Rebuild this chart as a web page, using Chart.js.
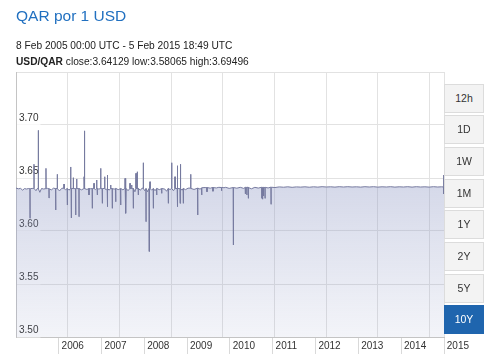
<!DOCTYPE html>
<html><head><meta charset="utf-8">
<script src="https://cdn.jsdelivr.net/npm/chart.js@4.4.1/dist/chart.umd.min.js"></script>
<style>
html,body{margin:0;padding:0;background:#fff;}
#wrap{position:relative;width:500px;height:356px;overflow:hidden;font-family:Arial,"Liberation Sans",sans-serif;}
#c{position:absolute;left:0;top:0;}
.t{position:absolute;left:16px;white-space:nowrap;line-height:1;}
#title{top:7.6px;font-size:15.5px;color:#2170c0;}
#range{top:41px;font-size:10.2px;color:#222;}
#stats{top:56.8px;font-size:10.2px;color:#222;}
.btn{position:absolute;left:444px;width:38px;height:27px;border:1px solid #dcdcdc;background:#f3f3f3;color:#333333;font-size:10.5px;text-align:center;line-height:27px;}
.btn.on{background:#1f65ae;border-color:#1f65ae;color:#fff;}
</style></head>
<body>
<div id="wrap">
<canvas id="c" width="500" height="356"></canvas>
<div class="t" id="title">QAR por 1 USD</div>
<div class="t" id="range">8 Feb 2005 00:00 UTC - 5 Feb 2015 18:49 UTC</div>
<div class="t" id="stats"><b>USD/QAR</b> close:3.64129 low:3.58065 high:3.69496</div>
</div>
<script>
// decimal-year dates and USD/QAR rates
const dates = [
2005.104,2005.160,2005.210,2005.260,2005.300,2005.350,2005.400,2005.428,2005.431,2005.434,2005.480,2005.521,2005.524,2005.527,2005.570,2005.600,2005.622,2005.625,2005.628,2005.660,2005.700,2005.750,2005.801,2005.804,2005.807,2005.840,2005.872,2005.875,2005.878,2005.930,2005.980,
2006.028,2006.031,2006.034,2006.065,2006.068,2006.071,2006.120,2006.170,2006.222,2006.225,2006.228,2006.260,2006.299,2006.302,2006.305,2006.340,2006.378,2006.381,2006.384,2006.392,2006.395,2006.398,2006.439,2006.442,2006.445,2006.495,2006.498,2006.501,2006.518,2006.521,2006.524,2006.572,2006.575,2006.578,2006.630,2006.689,2006.692,2006.695,2006.705,2006.708,2006.711,2006.760,2006.805,2006.808,2006.811,2006.850,2006.882,2006.885,2006.888,2006.922,2006.925,2006.928,2006.960,2006.985,2006.988,2006.991,2006.999,
2007.002,2007.005,2007.040,2007.079,2007.082,2007.085,2007.116,2007.119,2007.122,2007.172,2007.175,2007.178,2007.210,2007.233,2007.236,2007.239,2007.242,2007.245,2007.280,2007.312,2007.315,2007.318,2007.349,2007.352,2007.355,2007.395,2007.429,2007.432,2007.435,2007.490,2007.545,2007.548,2007.551,2007.600,2007.646,2007.649,2007.652,2007.669,2007.672,2007.675,2007.720,2007.763,2007.766,2007.769,2007.802,2007.805,2007.808,2007.840,2007.843,2007.846,2007.880,2007.903,2007.906,2007.909,2007.933,2007.936,2007.939,2007.956,2007.959,2007.962,
2008.010,2008.040,2008.073,2008.076,2008.079,2008.110,2008.136,2008.139,2008.142,2008.175,2008.206,2008.209,2008.212,2008.230,2008.233,2008.236,2008.270,2008.307,2008.310,2008.313,2008.350,2008.386,2008.389,2008.392,2008.450,2008.503,2008.506,2008.509,2008.580,2008.620,2008.657,2008.660,2008.663,2008.700,2008.736,2008.739,2008.742,2008.780,2008.813,2008.816,2008.819,2008.867,2008.870,2008.873,2008.876,2008.879,2008.930,2008.933,2008.936,2008.946,2008.949,2008.952,2008.980,
2009.007,2009.010,2009.013,2009.060,2009.120,2009.180,2009.183,2009.186,2009.260,2009.343,2009.346,2009.349,2009.400,2009.437,2009.440,2009.443,2009.520,2009.560,2009.563,2009.566,2009.640,2009.700,2009.703,2009.706,2009.780,2009.840,2009.900,2009.903,2009.906,2009.960,
2010.000,2010.080,2010.175,2010.178,2010.181,2010.260,2010.340,2010.420,2010.455,2010.458,2010.461,2010.490,2010.493,2010.496,2010.525,2010.528,2010.531,2010.600,2010.680,2010.760,2010.838,2010.841,2010.844,2010.858,2010.861,2010.864,2010.880,2010.883,2010.886,2010.915,2010.918,2010.921,2010.990,
2011.055,2011.058,2011.061,2011.150,2011.250,2011.350,2011.450,2011.550,2011.650,2011.750,2011.850,2011.950,
2012.050,2012.150,2012.250,2012.350,2012.450,2012.550,2012.650,2012.750,2012.850,2012.950,
2013.050,2013.150,2013.250,2013.350,2013.450,2013.550,2013.650,2013.750,2013.850,2013.950,
2014.050,2014.150,2014.250,2014.350,2014.450,2014.550,2014.650,2014.750,2014.850,2014.950,
2015.040,2015.085,2015.088,2015.091,2015.096
];
const rates = [
3.6405,3.6398,3.6402,3.6385,3.6400,3.6396,3.6401,3.6399,3.6120,3.6398,3.6402,3.6400,3.6630,3.6401,3.6380,3.6400,3.6402,3.69496,3.6398,3.6365,3.6401,3.6396,3.6400,3.6591,3.6399,3.6402,3.6400,3.6311,3.6398,3.6388,3.6404,
3.6400,3.6198,3.6401,3.6400,3.6535,3.6399,3.6378,3.6402,3.6405,3.6443,3.6400,3.6390,3.6400,3.6245,3.6401,3.6385,3.6400,3.6604,3.6400,3.6401,3.6123,3.6400,3.6402,3.6503,3.6400,3.6399,3.6151,3.6400,3.6402,3.6491,3.6400,3.6400,3.6135,3.6401,3.6388,3.6400,3.6512,3.6401,3.6402,3.6945,3.6400,3.6392,3.6400,3.6340,3.6401,3.6398,3.6400,3.6214,3.6400,3.6402,3.6450,3.6400,3.6390,3.6401,3.6481,3.6400,3.6400,
3.6340,3.6401,3.6395,3.6402,3.6591,3.6400,3.6399,3.6261,3.6400,3.6402,3.6512,3.6400,3.6390,3.6400,3.6229,3.6401,3.6528,3.6400,3.6385,3.6402,3.6434,3.6400,3.6400,3.6214,3.6401,3.6395,3.6400,3.6276,3.6402,3.6390,3.6400,3.6245,3.6401,3.6388,3.6402,3.6497,3.6400,3.6400,3.6167,3.6401,3.6380,3.6402,3.6450,3.6400,3.6401,3.6434,3.6400,3.6399,3.6214,3.6402,3.6370,3.6400,3.6544,3.6401,3.6400,3.6559,3.6400,3.6402,3.6340,3.6400,
3.6385,3.6402,3.6405,3.6644,3.6400,3.6380,3.6400,3.6088,3.6401,3.6370,3.6400,3.58065,3.6400,3.6402,3.6465,3.6400,3.6385,3.6400,3.6214,3.6401,3.6380,3.6400,3.6340,3.6402,3.6390,3.6400,3.6355,3.6401,3.6395,3.6375,3.6400,3.6261,3.6402,3.6390,3.6402,3.6644,3.6400,3.6380,3.6401,3.6512,3.6400,3.6402,3.6616,3.6400,3.6229,3.6401,3.6400,3.6261,3.6402,3.6405,3.6630,3.6400,3.6385,
3.6400,3.6261,3.6402,3.6390,3.6404,3.6405,3.6535,3.6402,3.6392,3.6404,3.6151,3.6405,3.6395,3.6405,3.6340,3.6408,3.6410,3.6409,3.6370,3.6410,3.6404,3.6411,3.6375,3.6410,3.6406,3.6412,3.6410,3.6380,3.6411,3.6408,
3.6412,3.6402,3.6410,3.5868,3.6410,3.6404,3.6412,3.6402,3.6411,3.6350,3.6412,3.6411,3.6340,3.6412,3.6412,3.6308,3.6410,3.6398,3.6412,3.6405,3.6412,3.6308,3.6412,3.6410,3.6300,3.6412,3.6411,3.6330,3.6412,3.6410,3.6308,3.6412,3.6406,
3.6414,3.6252,3.6413,3.6410,3.6416,3.6413,3.6417,3.6412,3.6416,3.6414,3.6417,3.6413,
3.6417,3.6414,3.6418,3.6415,3.6417,3.6414,3.6418,3.6415,3.6418,3.6415,
3.6417,3.6414,3.6418,3.6415,3.6418,3.6414,3.6417,3.6415,3.6418,3.6414,
3.6417,3.6415,3.6418,3.6414,3.6418,3.6415,3.6417,3.6414,3.6418,3.6415,
3.6417,3.6415,3.6528,3.6350,3.64129
];
const yearLabels = ['2006','2007','2008','2009','2010','2011','2012','2013','2014','2015'];
const yTickValues = [3.50, 3.55, 3.60, 3.65, 3.70, 3.75];
const rangeButtons = ['12h','1D','1W','1M','1Y','2Y','5Y','10Y'];
const activeRange = '10Y';

const xMin = dates[0], xMax = dates[dates.length - 1];
const yMin = 3.50, yMax = 3.75;
const FONT = 'Arial, "Liberation Sans", sans-serif';

// range buttons
const wrap = document.getElementById('wrap');
rangeButtons.forEach((b, i) => {
  const d = document.createElement('div');
  d.className = 'btn' + (b === activeRange ? ' on' : '');
  d.style.top = (83.5 + i * 31.7) + 'px';
  d.textContent = b;
  wrap.appendChild(d);
});

function fillGrad(ctx) {
  const chart = ctx.chart;
  const area = chart.chartArea;
  if (!area) return 'rgba(140,150,195,0.3)';
  const y0 = chart.scales.y.getPixelForValue(3.645);
  const g = chart.ctx.createLinearGradient(0, y0, 0, area.bottom);
  g.addColorStop(0, 'rgba(140,150,195,0.37)');
  g.addColorStop(1, 'rgba(140,150,195,0.10)');
  return g;
}

new Chart(document.getElementById('c'), {
  type: 'line',
  data: {
    datasets: [{
      data: dates.map((d, i) => ({ x: d, y: rates[i] })),
      borderColor: '#767a9f',
      borderWidth: 1,
      pointRadius: 0,
      tension: 0,
      fill: 'start',
      backgroundColor: fillGrad,
      xAxisID: 'x', yAxisID: 'y'
    }]
  },
  options: {
    responsive: false, animation: false, events: [], devicePixelRatio: 1,
    layout: { padding: { top: 72, left: 16, right: 56, bottom: 0 } },
    plugins: { legend: { display: false }, tooltip: { enabled: false } },
    scales: {
      xg: {
        axis: 'x', type: 'linear', position: 'bottom', weight: 0,
        min: xMin, max: xMax,
        afterBuildTicks: s => {
          const t = [];
          for (let v = xMin + 1.207; v < xMax - 0.1; v += 1.207) t.push({ value: v });
          t.push({ value: xMax });
          s.ticks = t;
        },
        ticks: { display: false },
        grid: { color: '#e2e2e2', drawTicks: false },
        border: { display: false },
        afterFit: s => { s.height = 0; }
      },
      x: {
        type: 'linear', position: 'bottom', weight: 1,
        min: xMin, max: xMax,
        afterBuildTicks: s => {
          s.ticks = yearLabels.map((l, i) => ({ value: xMin + (i + 1) * (xMax - xMin) / yearLabels.length }));
        },
        ticks: {
          autoSkip: false, maxRotation: 0, align: 'start', padding: -14,
          color: '#333', font: { size: 10, family: FONT },
          callback: (v, i) => ' ' + yearLabels[i]
        },
        grid: { drawOnChartArea: false, drawTicks: true, tickLength: 17, color: '#d9d9d9' },
        border: { display: true, color: '#c4c4c4' },
        afterFit: s => { s.height = 19; }
      },
      y: {
        type: 'linear', position: 'left', min: yMin, max: yMax,
        afterBuildTicks: s => { s.ticks = yTickValues.map(v => ({ value: v })); },
        ticks: {
          mirror: true, padding: 3, labelOffset: -6.5,
          color: '#333', font: { size: 10, family: FONT },
          showLabelBackdrop: true,
          backdropColor: c => (c.tick && c.tick.value >= yMax - 1e-9) ? 'rgba(0,0,0,0)' : 'rgba(255,255,255,0.75)',
          backdropPadding: { x: 2, y: 1 },
          callback: v => (v >= yMax - 1e-9) ? '' : v.toFixed(2)
        },
        grid: { color: '#e2e2e2', drawTicks: false },
        border: { display: true, color: '#c4c4c4' },
        afterFit: s => { s.width = 0; }
      }
    }
  }
});
</script>
</body></html>
